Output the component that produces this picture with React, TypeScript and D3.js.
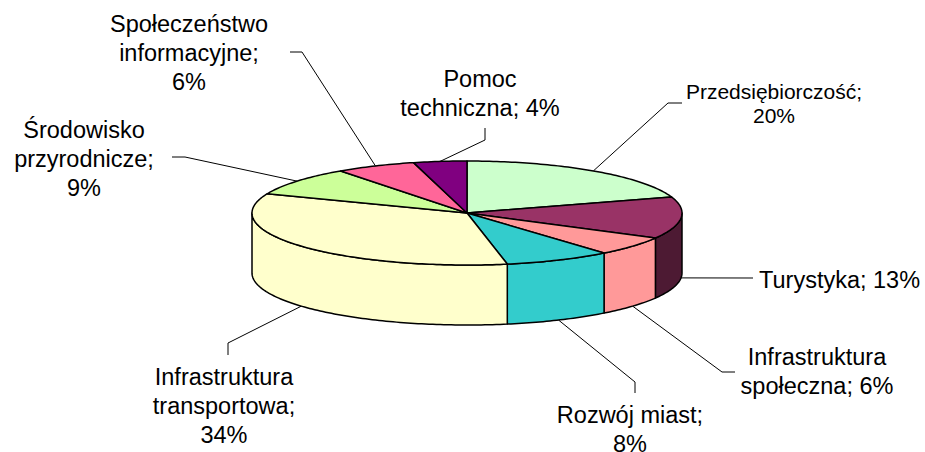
import React from "react";
import * as d3 from "d3";

// ---- data ----
const categories = [
  "Przedsiębiorczość",
  "Turystyka",
  "Infrastruktura społeczna",
  "Rozwój miast",
  "Infrastruktura transportowa",
  "Środowisko przyrodnicze",
  "Społeczeństwo informacyjne",
  "Pomoc techniczna",
];
const values = [20, 13, 6, 8, 34, 9, 6, 4];
const labelLines = [
  ["Przedsiębiorczość;", "20%"],
  ["Turystyka; 13%"],
  ["Infrastruktura", "społeczna; 6%"],
  ["Rozwój miast;", "8%"],
  ["Infrastruktura", "transportowa;", "34%"],
  ["Środowisko", "przyrodnicze;", "9%"],
  ["Społeczeństwo", "informacyjne;", "6%"],
  ["Pomoc", "techniczna; 4%"],
];

// ---- styles ----
const topColors = ["#CCFFCC", "#993366", "#FF9999", "#33CCCC", "#FFFFCC", "#CCFF99", "#FF6699", "#800080"];
const sideColors = ["#CCFFCC", "#4D1A33", "#FF9999", "#33CCCC", "#FFFFCC", "#CCFF99", "#FF6699", "#800080"];

// ---- layout ----
const W = 925;
const H = 452;
const CX = 467;
const CY = 213;
const RX = 215;
const RY = 52;
const DEPTH = 60;
const FONT = 23.5;
const LINE_H = 29;

// label layout: text center x, first baseline, font size, line height, anchor, leader elbow & end
const labelLayout = [
  { x: 774, y: 99, fs: 21, lh: 24, anchor: "middle", elbow: [668, 103], end: [682, 103] },
  { x: 759, y: 288, fs: FONT, lh: LINE_H, anchor: "start", elbow: [753, 278], end: [753, 278] },
  { x: 817, y: 365, fs: FONT, lh: LINE_H, anchor: "middle", elbow: [722, 372], end: [735, 372] },
  { x: 630, y: 423, fs: FONT, lh: LINE_H, anchor: "middle", elbow: [635, 382], end: [635, 393] },
  { x: 224, y: 385, fs: FONT, lh: LINE_H, anchor: "middle", elbow: [228, 343], end: [228, 355] },
  { x: 84, y: 138, fs: FONT, lh: LINE_H, anchor: "middle", elbow: [185, 157], end: [172, 157] },
  { x: 189, y: 32, fs: FONT, lh: LINE_H, anchor: "middle", elbow: [302, 52], end: [290, 52] },
  { x: 480, y: 87, fs: FONT, lh: LINE_H, anchor: "middle", elbow: [485, 140], end: [485, 128] },
];

const px = (a: number) => CX + RX * Math.sin(a);
const py = (a: number, dz = 0) => CY - RY * Math.cos(a) + dz;

function arcPoints(a0: number, a1: number, dz = 0): [number, number][] {
  const n = Math.max(2, Math.ceil(((a1 - a0) * 180) / Math.PI));
  return d3.range(n + 1).map((i) => {
    const a = a0 + ((a1 - a0) * i) / n;
    return [px(a), py(a, dz)] as [number, number];
  });
}

export default function App() {
  const pie = d3.pie<number>().sort(null).startAngle(0).endAngle(2 * Math.PI);
  const arcs = pie(values);
  const line = d3.line();

  const sides = arcs
    .map((d, i) => {
      const a0 = Math.max(d.startAngle, Math.PI / 2);
      const a1 = Math.min(d.endAngle, (3 * Math.PI) / 2);
      if (a1 <= a0) return null;
      const top = arcPoints(a0, a1, 0);
      const bot = arcPoints(a0, a1, DEPTH).reverse();
      return { i, path: line([...top, ...bot])! + "Z" };
    })
    .filter(Boolean) as { i: number; path: string }[];

  const tops = arcs.map((d, i) => {
    const pts: [number, number][] = [[CX, CY], ...arcPoints(d.startAngle, d.endAngle, 0)];
    return { i, path: line(pts)! + "Z" };
  });

  const leaders = arcs.map((d, i) => {
    const mid = (d.startAngle + d.endAngle) / 2;
    const front = Math.cos(mid) < 0;
    const start: [number, number] = [px(mid), py(mid, front ? DEPTH : 0)];
    const L = labelLayout[i];
    return line([start, L.elbow as [number, number], L.end as [number, number]])!;
  });

  return (
    <svg
      width={W}
      height={H}
      style={{ position: "absolute", left: 0, top: 0, background: "#fff" }}
      fontFamily="'Liberation Sans', Arial, sans-serif"
    >
      <rect width={W} height={H} fill="#fff" />
      {leaders.map((p, i) => (
        <path key={"l" + i} d={p} fill="none" stroke="#000" strokeWidth={1} />
      ))}
      {sides.map((s) => (
        <path key={"s" + s.i} d={s.path} fill={sideColors[s.i]} stroke="#000" strokeWidth={1.5} strokeLinejoin="round" />
      ))}
      {tops.map((t) => (
        <path key={"t" + t.i} d={t.path} fill={topColors[t.i]} stroke="#000" strokeWidth={1.5} strokeLinejoin="round" />
      ))}
      {labelLines.map((lines, i) => {
        const L = labelLayout[i];
        return (
          <text key={"x" + i} x={L.x} y={L.y} fontSize={L.fs} textAnchor={L.anchor as any} fill="#000">
            {lines.map((t, j) => (
              <tspan key={j} x={L.x} y={L.y + j * L.lh}>
                {t}
              </tspan>
            ))}
          </text>
        );
      })}
    </svg>
  );
}
